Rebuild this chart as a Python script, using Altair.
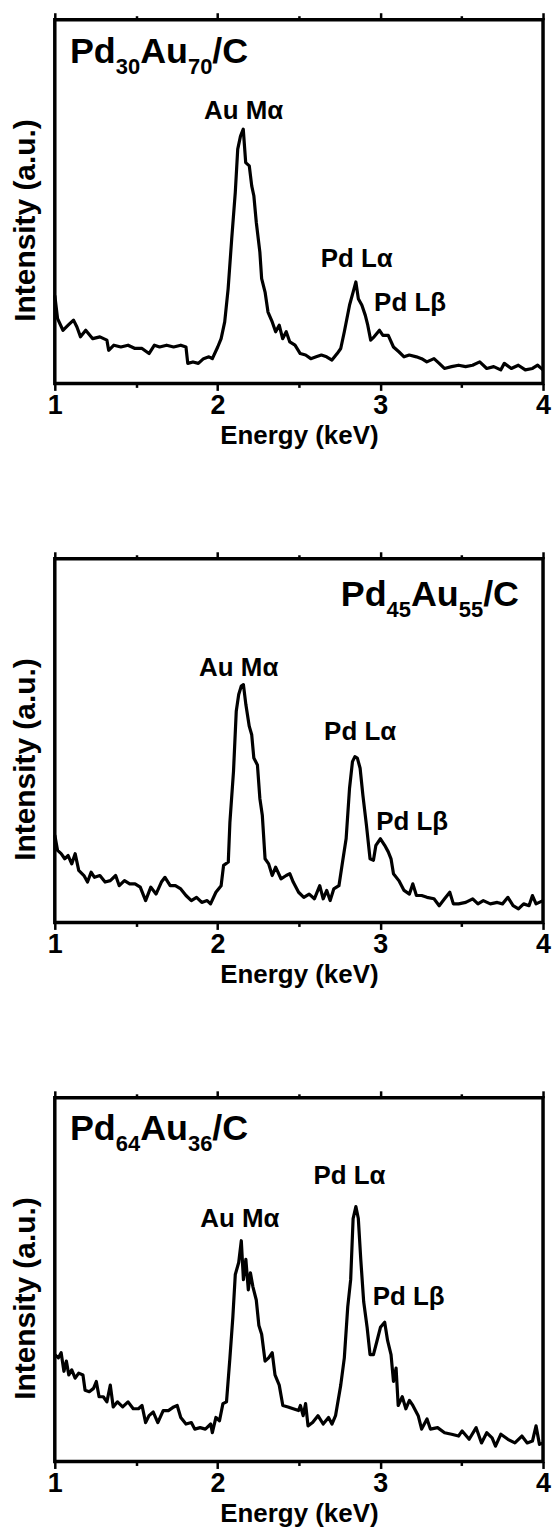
import altair as alt
import pandas as pd

# ---------------- data ----------------
# Intensity in arbitrary units: 0 = bottom of frame, 100 = top of frame
E1 = [1.000, 1.017, 1.050, 1.082, 1.115, 1.136, 1.158, 1.190, 1.233, 1.277, 1.320, 1.331, 1.363, 1.406,
      1.450, 1.493, 1.536, 1.579, 1.612, 1.644, 1.687, 1.730, 1.774, 1.806, 1.817, 1.849, 1.882, 1.914,
      1.947, 1.968, 2.001, 2.022, 2.044, 2.065, 2.087, 2.109, 2.124, 2.141, 2.158, 2.173, 2.195, 2.210,
      2.223, 2.238, 2.260, 2.271, 2.292, 2.310, 2.336, 2.357, 2.379, 2.400, 2.422, 2.444, 2.476, 2.508,
      2.541, 2.573, 2.606, 2.638, 2.670, 2.703, 2.735, 2.757, 2.779, 2.811, 2.833, 2.850, 2.865, 2.887,
      2.908, 2.923, 2.941, 2.962, 2.995, 3.016, 3.049, 3.081, 3.114, 3.146, 3.178, 3.222, 3.254, 3.286,
      3.330, 3.362, 3.394, 3.438, 3.481, 3.524, 3.567, 3.611, 3.654, 3.697, 3.740, 3.762, 3.805, 3.848,
      3.891, 3.935, 3.967, 4.000]
I1 = [24.2, 17.8, 14.6, 16.0, 17.4, 15.5, 12.8, 14.6, 12.3, 12.8, 11.9, 9.1, 10.5, 10.0,
      10.5, 9.6, 9.6, 8.2, 10.5, 10.0, 10.5, 10.0, 10.5, 10.0, 5.5, 5.9, 5.5, 6.8,
      7.3, 6.8, 10.0, 12.3, 16.9, 26.0, 39.7, 52.5, 64.4, 68.0, 69.9, 60.7, 59.8, 54.3,
      51.6, 44.3, 36.1, 28.8, 25.1, 19.6, 16.9, 14.2, 16.0, 12.3, 14.2, 11.4, 10.5, 8.2,
      7.8, 6.8, 7.3, 7.8, 7.3, 6.4, 8.2, 9.6, 14.2, 21.5, 25.1, 27.9, 23.3, 21.5,
      18.7, 16.0, 11.9, 12.8, 14.6, 13.2, 13.2, 10.0, 8.7, 7.3, 7.8, 7.3, 6.8, 5.9,
      6.8, 5.5, 4.1, 4.6, 5.0, 4.6, 5.0, 5.9, 4.1, 4.6, 3.7, 5.5, 4.1, 5.0,
      3.7, 4.1, 5.0, 3.7]

E2 = [1.000, 1.017, 1.039, 1.061, 1.082, 1.104, 1.125, 1.147, 1.179, 1.201, 1.223, 1.244, 1.277, 1.309,
      1.341, 1.374, 1.396, 1.428, 1.460, 1.493, 1.525, 1.558, 1.590, 1.622, 1.655, 1.677, 1.709, 1.741,
      1.774, 1.806, 1.839, 1.871, 1.903, 1.936, 1.957, 1.990, 2.022, 2.037, 2.066, 2.076, 2.098, 2.115,
      2.130, 2.146, 2.159, 2.174, 2.195, 2.210, 2.223, 2.245, 2.260, 2.275, 2.292, 2.314, 2.336, 2.357,
      2.390, 2.422, 2.444, 2.465, 2.498, 2.530, 2.563, 2.595, 2.628, 2.649, 2.671, 2.692, 2.714, 2.746,
      2.768, 2.790, 2.811, 2.829, 2.844, 2.859, 2.876, 2.893, 2.915, 2.937, 2.958, 2.973, 3.001, 3.027,
      3.049, 3.066, 3.081, 3.114, 3.146, 3.179, 3.200, 3.222, 3.254, 3.287, 3.330, 3.362, 3.395, 3.427,
      3.449, 3.481, 3.525, 3.568, 3.600, 3.633, 3.676, 3.719, 3.751, 3.784, 3.816, 3.849, 3.881, 3.914,
      3.935, 3.957, 4.000]
I2 = [24.0, 19.8, 18.9, 17.5, 18.4, 16.1, 18.9, 14.3, 12.9, 11.1, 13.8, 12.4, 12.9, 11.1,
      11.5, 12.9, 10.1, 11.5, 10.6, 10.6, 9.7, 6.0, 9.7, 7.8, 11.1, 12.4, 10.1, 10.1,
      9.2, 7.4, 6.0, 6.9, 5.5, 6.0, 5.1, 8.3, 10.1, 15.7, 16.6, 27.6, 41.5, 58.1,
      62.7, 65.0, 65.4, 59.9, 53.9, 51.6, 45.2, 43.3, 34.1, 29.5, 17.5, 16.1, 12.9, 15.2,
      12.0, 12.9, 13.4, 11.1, 8.3, 6.9, 7.8, 6.5, 10.1, 6.5, 8.8, 6.0, 9.2, 10.1,
      16.6, 23.0, 36.9, 44.2, 45.6, 45.2, 42.4, 35.0, 26.7, 17.5, 17.1, 21.2, 23.0, 21.2,
      19.4, 17.5, 13.4, 11.5, 8.8, 7.8, 10.6, 7.4, 7.4, 6.9, 6.5, 4.6, 6.5, 8.3,
      5.1, 5.1, 5.5, 6.5, 5.1, 6.0, 5.1, 5.5, 5.1, 6.9, 4.6, 3.7, 5.1, 4.6,
      7.4, 5.1, 6.0]

E3 = [1.000, 1.022, 1.039, 1.056, 1.071, 1.086, 1.104, 1.125, 1.147, 1.173, 1.186, 1.212, 1.238, 1.255,
      1.272, 1.298, 1.320, 1.341, 1.359, 1.385, 1.417, 1.450, 1.482, 1.514, 1.536, 1.558, 1.579, 1.605,
      1.633, 1.666, 1.698, 1.731, 1.752, 1.774, 1.806, 1.839, 1.860, 1.893, 1.925, 1.958, 1.968, 1.990,
      2.012, 2.033, 2.055, 2.076, 2.094, 2.109, 2.130, 2.146, 2.159, 2.174, 2.189, 2.202, 2.217, 2.238,
      2.254, 2.271, 2.292, 2.314, 2.336, 2.353, 2.379, 2.401, 2.433, 2.465, 2.498, 2.509, 2.526, 2.541,
      2.556, 2.584, 2.617, 2.649, 2.682, 2.703, 2.725, 2.757, 2.779, 2.800, 2.818, 2.833, 2.850, 2.865,
      2.880, 2.898, 2.919, 2.937, 2.958, 2.980, 3.001, 3.027, 3.045, 3.066, 3.081, 3.097, 3.110, 3.135,
      3.157, 3.179, 3.200, 3.233, 3.254, 3.287, 3.308, 3.352, 3.395, 3.438, 3.481, 3.503, 3.546, 3.589,
      3.622, 3.654, 3.687, 3.708, 3.741, 3.784, 3.827, 3.870, 3.903, 3.935, 3.957, 3.978, 4.000]
I3 = [29.4, 28.5, 29.9, 24.8, 27.6, 23.8, 25.2, 22.9, 24.3, 23.8, 19.6, 19.2, 20.1, 22.0,
      17.8, 17.8, 16.4, 21.0, 15.0, 16.4, 15.0, 16.4, 14.5, 14.5, 15.4, 10.7, 12.6, 13.6,
      10.7, 14.0, 14.0, 15.0, 15.4, 12.1, 10.3, 10.7, 8.9, 9.3, 8.9, 10.3, 7.9, 12.1,
      11.2, 15.9, 16.4, 28.5, 39.7, 51.4, 54.7, 60.7, 50.0, 55.6, 47.2, 51.9, 48.1, 44.4,
      37.4, 35.0, 27.6, 28.5, 29.9, 23.8, 21.0, 15.4, 15.0, 14.5, 14.0, 15.4, 12.6, 15.9,
      9.8, 10.7, 12.6, 10.3, 12.1, 10.3, 12.6, 21.0, 28.5, 42.5, 50.0, 66.8, 70.1, 66.8,
      55.6, 43.9, 36.9, 29.4, 29.4, 33.2, 36.9, 38.3, 33.2, 29.4, 22.0, 25.7, 15.4, 17.8,
      14.5, 16.8, 15.4, 12.6, 8.9, 11.7, 8.9, 9.3, 7.9, 7.5, 7.0, 8.4, 6.1, 9.3,
      5.1, 7.9, 6.5, 4.2, 7.5, 6.1, 5.1, 7.0, 5.1, 5.6, 9.8, 4.7, 5.1]

# peak labels: (text, energy, intensity at text baseline)
PEAKS1 = [("Au M\u03b1", 2.160, 72.6), ("Pd L\u03b1", 2.855, 32.0), ("Pd L\u03b2", 3.183, 19.8)]
PEAKS2 = [("Au M\u03b1", 2.130, 67.7), ("Pd L\u03b1", 2.876, 50.2), ("Pd L\u03b2", 3.196, 25.3)]
PEAKS3 = [("Au M\u03b1", 2.137, 64.5), ("Pd L\u03b1", 2.811, 76.2), ("Pd L\u03b2", 3.174, 43.0)]

# sample names: pieces (text, is_subscript); anchor energy / intensity of the baseline
NAME1 = [("Pd", False), ("30", True), ("Au", False), ("70", True), ("/C", False)]
NAME2 = [("Pd", False), ("45", True), ("Au", False), ("55", True), ("/C", False)]
NAME3 = [("Pd", False), ("64", True), ("Au", False), ("36", True), ("/C", False)]
NAME_POS = [(1.093, 88.0), (2.757, 87.1), (1.093, 88.5)]

X_TICKS = [1, 1.5, 2, 2.5, 3, 3.5, 4]

FONT = "Liberation Sans"
W, H = 490, 365
BIG, SUB = 36, 22

# advance widths (em) of Liberation Sans Bold glyphs used by the sample names
ADV = {"P": 0.667, "d": 0.611, "A": 0.722, "u": 0.611, "/": 0.278, "C": 0.722}


def piece_width(text, sub):
    size = SUB if sub else BIG
    return sum(ADV.get(ch, 0.556) for ch in text) * size


tick_size = {"condition": {"test": "datum.value % 1 === 0", "value": 7}, "value": 4}


def xscale():
    return alt.Scale(domain=[1, 4], nice=False, zero=False)


def yscale():
    return alt.Scale(domain=[0, 100], nice=False, zero=False)


def panel(E, I, peaks, name, name_pos):
    df = pd.DataFrame({"E": E, "I": I})
    bottom_axis = alt.Axis(
        values=X_TICKS, labelExpr="datum.value % 1 === 0 ? format(datum.value, 'd') : ''",
        title="Energy (keV)", titleFont=FONT, titleFontSize=26, titleFontWeight="bold",
        titleColor="black", titlePadding=4,
        labelFont=FONT, labelFontSize=27, labelFontWeight="bold", labelColor="black",
        labelFlush=False, labelOverlap=False, labelPadding=2,
        domain=False, grid=False, ticks=True, tickColor="black", tickWidth=2.5,
        tickSize=tick_size,
    )
    line = alt.Chart(df).mark_line(color="black", strokeWidth=3.2, strokeJoin="round").encode(
        x=alt.X("E:Q", scale=xscale(), axis=bottom_axis),
        y=alt.Y("I:Q", scale=yscale(), axis=None),
    )
    top = alt.Chart(df).mark_line(opacity=0).encode(
        x=alt.X("E:Q", scale=xscale(), axis=alt.Axis(
            orient="top", values=X_TICKS, labels=False, title=None, domain=False, grid=False,
            ticks=True, tickColor="black", tickWidth=2.5, tickSize=tick_size)),
        y=alt.Y("I:Q", scale=yscale(), axis=None),
    )
    layers = [line, top]

    # y-axis title drawn as rotated text left of the frame
    ylab = alt.Chart(pd.DataFrame({"t": ["Intensity (a.u.)"]})).mark_text(
        font=FONT, fontSize=30, fontWeight="bold", color="black", angle=270,
        align="center", baseline="middle").encode(
        x=alt.value(-29), y=alt.value(H / 2 + 19), text="t:N")
    layers.append(ylab)

    pk = pd.DataFrame({"t": [p[0] for p in peaks], "E": [p[1] for p in peaks], "I": [p[2] for p in peaks]})
    layers.append(
        alt.Chart(pk).mark_text(font=FONT, fontSize=26, fontWeight="bold", color="black",
                                align="center", baseline="alphabetic").encode(
            x=alt.X("E:Q", scale=xscale(), axis=None),
            y=alt.Y("I:Q", scale=yscale(), axis=None),
            text="t:N",
        )
    )

    offset = 0.0
    ne, ni = name_pos
    for text, sub in name:
        nd = pd.DataFrame({"t": [text], "E": [ne], "I": [ni]})
        layers.append(
            alt.Chart(nd).mark_text(font=FONT, fontSize=SUB if sub else BIG, fontWeight="bold",
                                    color="black", align="left", baseline="alphabetic",
                                    dx=offset, dy=11 if sub else 0).encode(
                x=alt.X("E:Q", scale=xscale(), axis=None),
                y=alt.Y("I:Q", scale=yscale(), axis=None),
                text="t:N",
            )
        )
        offset += piece_width(text, sub)

    return alt.layer(*layers).resolve_axis(x="independent").properties(width=W, height=H)


p1 = panel(E1, I1, PEAKS1, NAME1, NAME_POS[0])
p2 = panel(E2, I2, PEAKS2, NAME2, NAME_POS[1])
p3 = panel(E3, I3, PEAKS3, NAME3, NAME_POS[2])

chart = (
    alt.vconcat(p1, p2, p3, spacing=176, bounds="flush")
    .properties(padding={"left": 9, "top": 7, "right": 0, "bottom": 0}, background="white")
    .configure_view(stroke="black", strokeWidth=3.5)
)

chart.save("out.html", embed_options={"renderer": "svg", "actions": False})
